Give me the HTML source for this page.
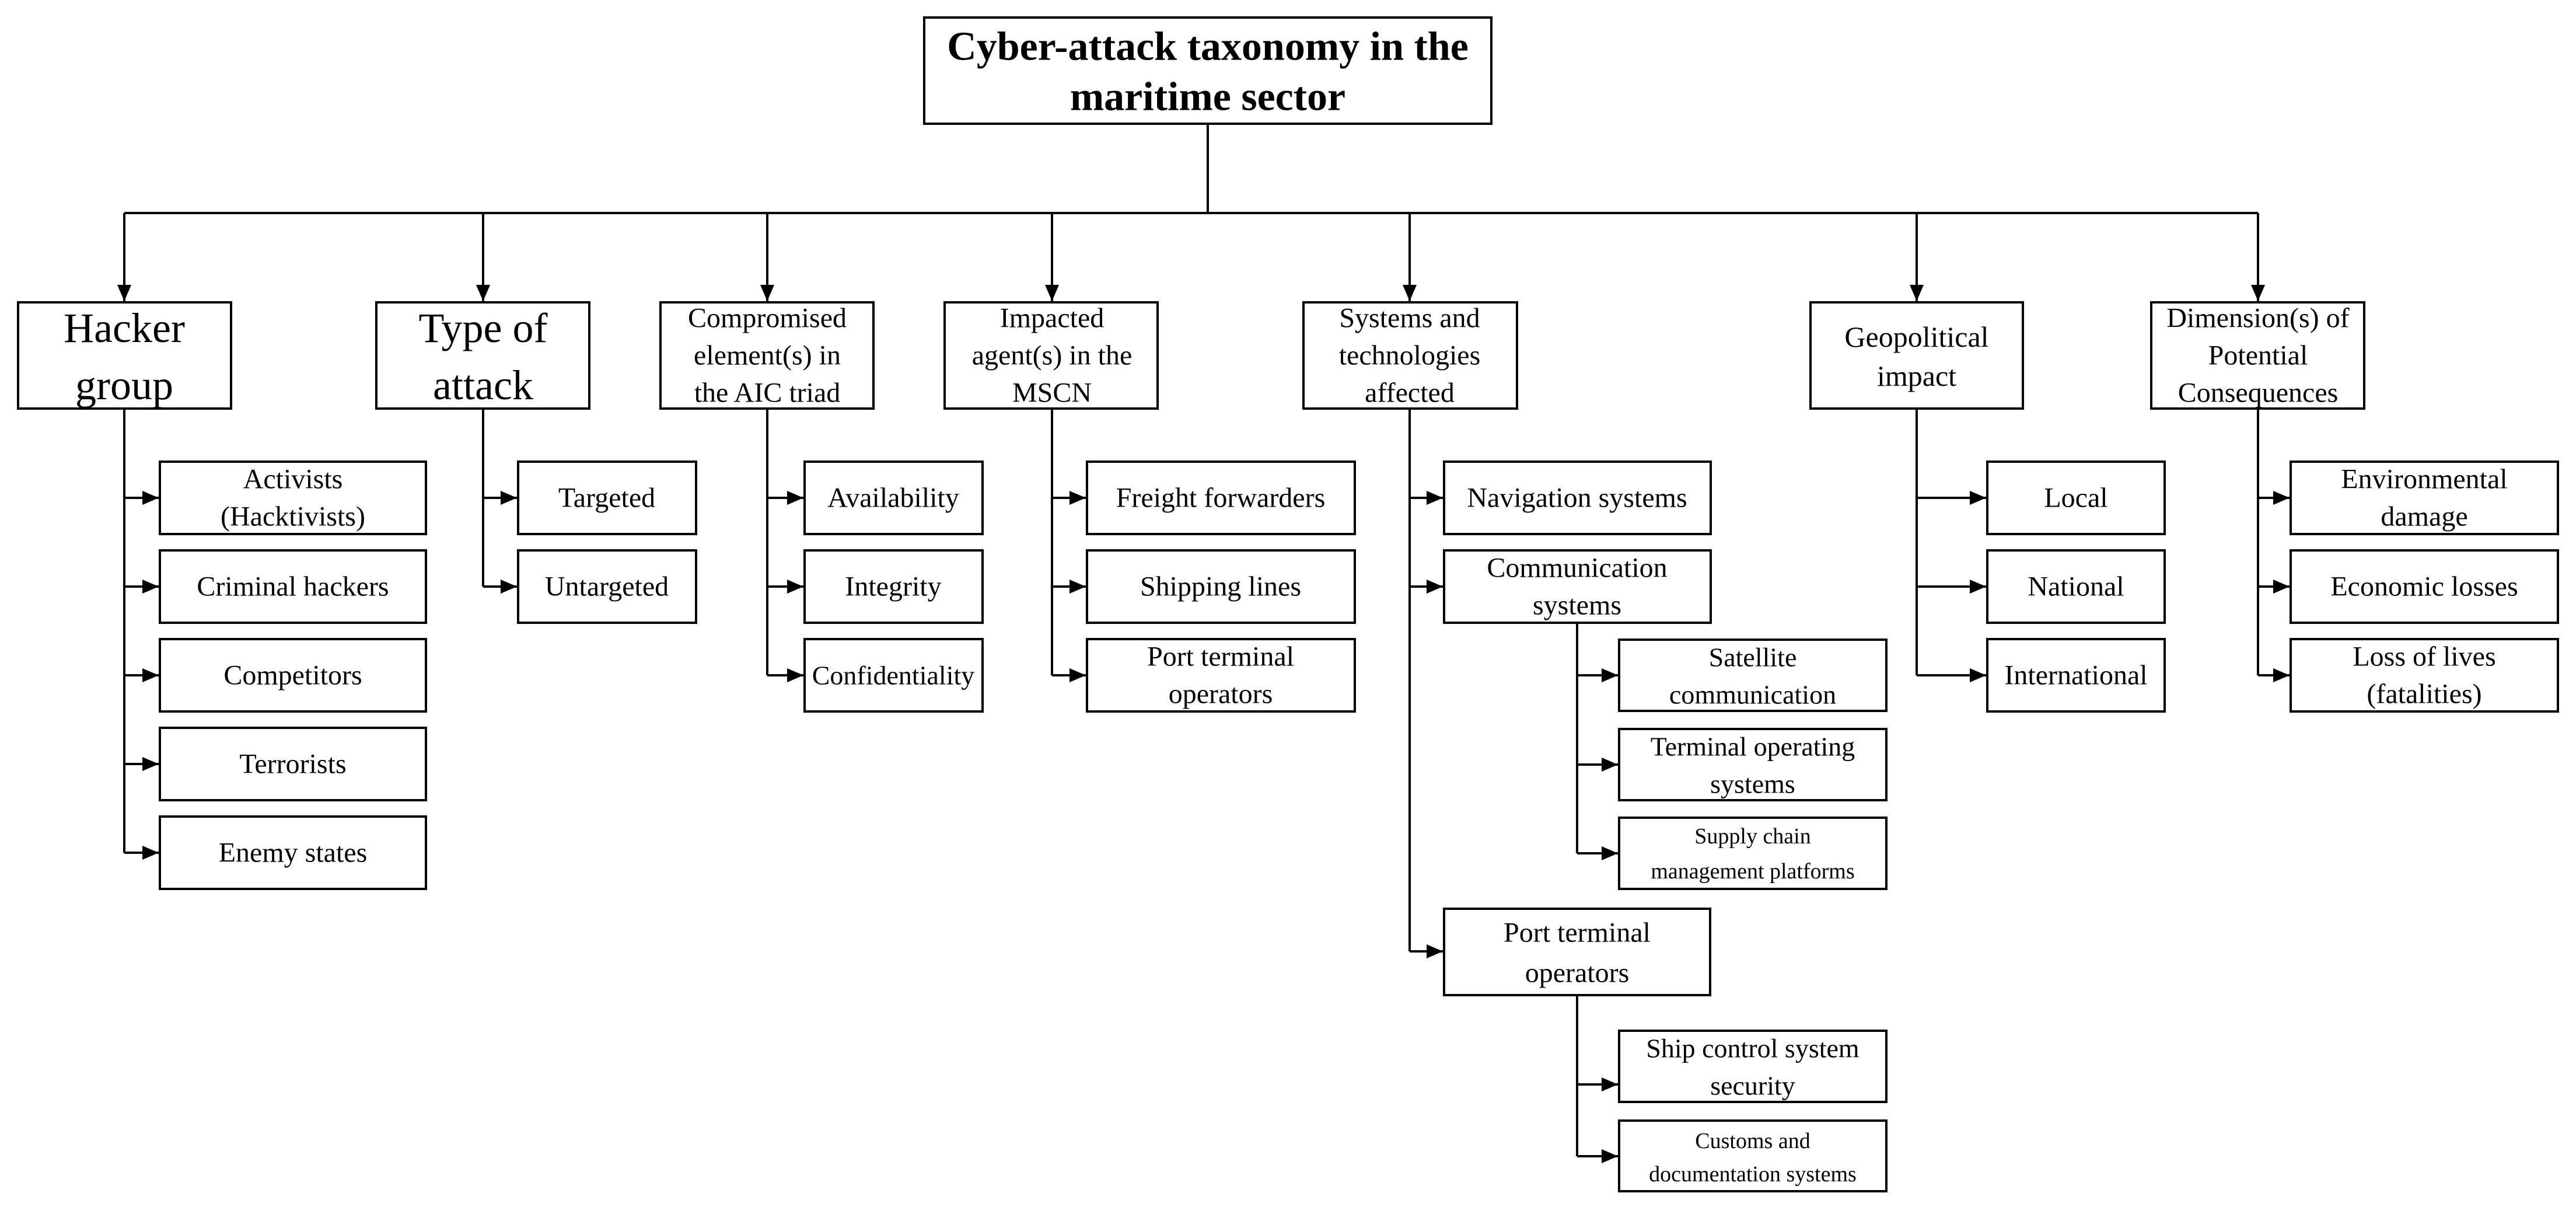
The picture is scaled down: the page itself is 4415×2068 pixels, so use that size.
<!DOCTYPE html>
<html><head><meta charset="utf-8"><style>
html,body{margin:0;padding:0;background:#fff;}
svg{display:block;}
text{font-family:"Liberation Serif",serif;fill:#000;text-anchor:middle;dominant-baseline:central;}
.b{fill:#fff;stroke:#000;stroke-width:4;}
.l{stroke:#000;stroke-width:4;fill:none;}
.a{stroke:#000;stroke-width:4;fill:none;marker-end:url(#ar);}
</style></head><body>
<svg width="4415" height="2068" viewBox="0 0 4415 2068" xmlns="http://www.w3.org/2000/svg">
<defs><marker id="ar" markerUnits="userSpaceOnUse" markerWidth="30" markerHeight="24" refX="28" refY="12" orient="auto"><path d="M0,0 L28,12 L0,24 Z" fill="#000"/></marker></defs>

<rect class="b" x="1584" y="30" width="972" height="182"/>
<text x="2070" y="80" font-size="70" font-weight="bold">Cyber-attack taxonomy in the</text>
<text x="2070" y="166" font-size="70" font-weight="bold">maritime sector</text>
<path class="l" d="M2070 212 V365 M213 365 H3870"/>
<path class="a" d="M213 365 V516"/><path class="a" d="M828 365 V516"/><path class="a" d="M1315 365 V516"/>
<path class="a" d="M1803 365 V516"/><path class="a" d="M2416 365 V516"/><path class="a" d="M3285 365 V516"/><path class="a" d="M3870 365 V516"/>

<rect class="b" x="31" y="518" width="365" height="182"/>
<text x="213" y="562" font-size="72">Hacker</text><text x="213" y="660" font-size="72">group</text>
<rect class="b" x="645" y="518" width="365" height="182"/>
<text x="828" y="562" font-size="72">Type of</text><text x="828" y="660" font-size="72">attack</text>
<rect class="b" x="1132" y="518" width="365" height="182"/>
<text x="1315" y="545" font-size="48">Compromised</text><text x="1315" y="609" font-size="48">element(s) in</text><text x="1315" y="673" font-size="48">the AIC triad</text>
<rect class="b" x="1619" y="518" width="365" height="182"/>
<text x="1803" y="545" font-size="48">Impacted</text><text x="1803" y="609" font-size="48">agent(s) in the</text><text x="1803" y="673" font-size="48">MSCN</text>
<rect class="b" x="2234" y="518" width="366" height="182"/>
<text x="2416" y="545" font-size="48">Systems and</text><text x="2416" y="609" font-size="48">technologies</text><text x="2416" y="673" font-size="48">affected</text>
<rect class="b" x="3103" y="518" width="364" height="182"/>
<text x="3285" y="577" font-size="50">Geopolitical</text><text x="3285" y="644" font-size="50">impact</text>
<rect class="b" x="3687" y="518" width="365" height="182"/>
<text x="3870" y="545" font-size="48">Dimension(s) of</text><text x="3870" y="609" font-size="48">Potential</text><text x="3870" y="673" font-size="48">Consequences</text>

<path class="l" d="M213 700 V1461"/>
<path class="a" d="M213 853 H272"/><path class="a" d="M213 1005 H272"/><path class="a" d="M213 1157 H272"/><path class="a" d="M213 1309 H272"/><path class="a" d="M213 1461 H272"/>
<rect class="b" x="274" y="791" width="456" height="124"/><text x="502" y="821" font-size="48">Activists</text><text x="502" y="885" font-size="48">(Hacktivists)</text>
<rect class="b" x="274" y="943" width="456" height="124"/><text x="502" y="1005" font-size="48">Criminal hackers</text>
<rect class="b" x="274" y="1095" width="456" height="124"/><text x="502" y="1157" font-size="48">Competitors</text>
<rect class="b" x="274" y="1247" width="456" height="124"/><text x="502" y="1309" font-size="48">Terrorists</text>
<rect class="b" x="274" y="1399" width="456" height="124"/><text x="502" y="1461" font-size="48">Enemy states</text>

<path class="l" d="M828 700 V1005"/>
<path class="a" d="M828 853 H886"/><path class="a" d="M828 1005 H886"/>
<rect class="b" x="888" y="791" width="305" height="124"/><text x="1040" y="853" font-size="48">Targeted</text>
<rect class="b" x="888" y="943" width="305" height="124"/><text x="1040" y="1005" font-size="48">Untargeted</text>

<path class="l" d="M1315 700 V1157"/>
<path class="a" d="M1315 853 H1377"/><path class="a" d="M1315 1005 H1377"/><path class="a" d="M1315 1157 H1377"/>
<rect class="b" x="1379" y="791" width="305" height="124"/><text x="1531" y="853" font-size="48">Availability</text>
<rect class="b" x="1379" y="943" width="305" height="124"/><text x="1531" y="1005" font-size="48">Integrity</text>
<rect class="b" x="1379" y="1095" width="305" height="124"/><text x="1531" y="1157" font-size="46">Confidentiality</text>

<path class="l" d="M1803 700 V1157"/>
<path class="a" d="M1803 853 H1861"/><path class="a" d="M1803 1005 H1861"/><path class="a" d="M1803 1157 H1861"/>
<rect class="b" x="1863" y="791" width="459" height="124"/><text x="2092" y="853" font-size="48">Freight forwarders</text>
<rect class="b" x="1863" y="943" width="459" height="124"/><text x="2092" y="1005" font-size="48">Shipping lines</text>
<rect class="b" x="1863" y="1095" width="459" height="124"/><text x="2092" y="1125" font-size="48">Port terminal</text><text x="2092" y="1189" font-size="48">operators</text>

<path class="l" d="M2416 700 V1630"/>
<path class="a" d="M2416 853 H2473"/><path class="a" d="M2416 1005 H2473"/><path class="a" d="M2416 1630 H2473"/>
<rect class="b" x="2475" y="791" width="457" height="124"/><text x="2703" y="853" font-size="48">Navigation systems</text>
<rect class="b" x="2475" y="943" width="457" height="124"/><text x="2703" y="973" font-size="48">Communication</text><text x="2703" y="1037" font-size="48">systems</text>
<path class="l" d="M2703 1067 V1462"/>
<path class="a" d="M2703 1157 H2773"/><path class="a" d="M2703 1310 H2773"/><path class="a" d="M2703 1462 H2773"/>
<rect class="b" x="2775" y="1096" width="458" height="122"/><text x="3004" y="1126" font-size="46">Satellite</text><text x="3004" y="1190" font-size="46">communication</text>
<rect class="b" x="2775" y="1249" width="458" height="122"/><text x="3004" y="1279" font-size="46">Terminal operating</text><text x="3004" y="1343" font-size="46">systems</text>
<rect class="b" x="2775" y="1401" width="458" height="122"/><text x="3004" y="1433" font-size="38">Supply chain</text><text x="3004" y="1493" font-size="38">management platforms</text>
<rect class="b" x="2475" y="1557" width="456" height="148"/><text x="2703" y="1598" font-size="48">Port terminal</text><text x="2703" y="1667" font-size="48">operators</text>
<path class="l" d="M2703 1705 V1981"/>
<path class="a" d="M2703 1858 H2773"/><path class="a" d="M2703 1981 H2773"/>
<rect class="b" x="2775" y="1766" width="458" height="122"/><text x="3004" y="1796" font-size="46">Ship control system</text><text x="3004" y="1860" font-size="46">security</text>
<rect class="b" x="2775" y="1920" width="458" height="121"/><text x="3004" y="1955" font-size="38">Customs and</text><text x="3004" y="2012" font-size="38">documentation systems</text>

<path class="l" d="M3285 700 V1157"/>
<path class="a" d="M3285 853 H3404"/><path class="a" d="M3285 1005 H3404"/><path class="a" d="M3285 1157 H3404"/>
<rect class="b" x="3406" y="791" width="304" height="124"/><text x="3558" y="853" font-size="48">Local</text>
<rect class="b" x="3406" y="943" width="304" height="124"/><text x="3558" y="1005" font-size="48">National</text>
<rect class="b" x="3406" y="1095" width="304" height="124"/><text x="3558" y="1157" font-size="48">International</text>

<path class="l" d="M3870 700 V1157"/>
<path class="a" d="M3870 853 H3924"/><path class="a" d="M3870 1005 H3924"/><path class="a" d="M3870 1157 H3924"/>
<rect class="b" x="3926" y="791" width="458" height="124"/><text x="4155" y="821" font-size="48">Environmental</text><text x="4155" y="885" font-size="48">damage</text>
<rect class="b" x="3926" y="943" width="458" height="124"/><text x="4155" y="1005" font-size="48">Economic losses</text>
<rect class="b" x="3926" y="1095" width="458" height="124"/><text x="4155" y="1125" font-size="48">Loss of lives</text><text x="4155" y="1189" font-size="48">(fatalities)</text>
</svg>
</body></html>
